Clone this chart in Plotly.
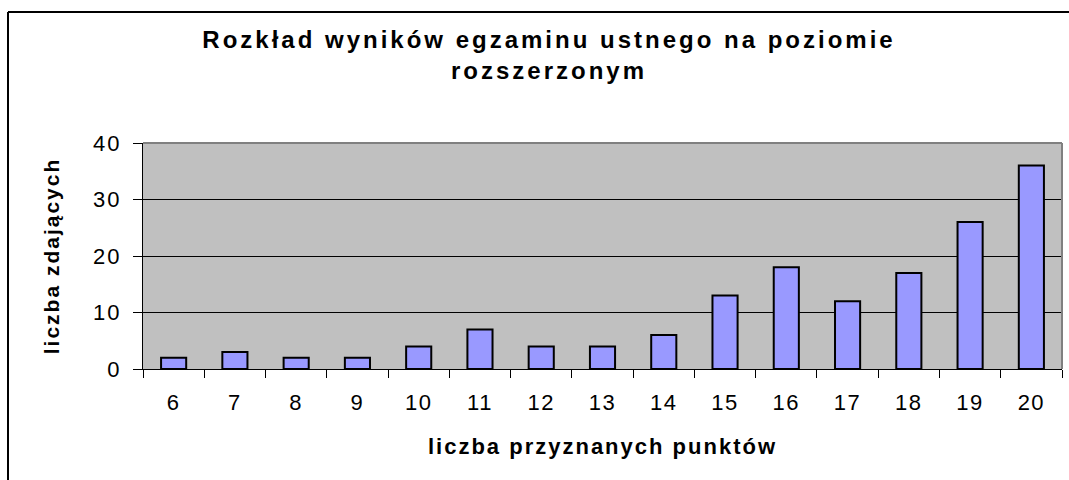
import plotly.graph_objects as go

categories = ["6", "7", "8", "9", "10", "11", "12", "13", "14", "15", "16", "17", "18", "19", "20"]
counts = [2, 3, 2, 2, 4, 7, 4, 4, 6, 13, 18, 12, 17, 26, 36]
y_ticks = [0, 10, 20, 30, 40]

title_text = "Rozkład wyników egzaminu ustnego na poziomie<br>rozszerzonym"
x_title = "liczba przyznanych punktów"
y_title = "liczba zdających"

W, H = 1069, 480
L, R, T, B = 143, 7, 143, 111
pw, ph = W - L - R, H - T - B

def px(x):
    return (x - L) / pw

def py(y):
    return 1 - (y - T) / ph

FONT = "Liberation Sans, Arial, sans-serif"

fig = go.Figure(
    go.Bar(
        x=categories,
        y=counts,
        marker=dict(color="#9999FF", line=dict(color="black", width=2)),
        width=0.41,
    )
)

fig.update_layout(
    width=W,
    height=H,
    margin=dict(l=L, r=R, t=T, b=B),
    paper_bgcolor="white",
    plot_bgcolor="#C0C0C0",
    showlegend=False,
    title=dict(
        text="<b>" + title_text + "</b>",
        x=549 / W,
        xanchor="center",
        y=1 - 48 / H,
        yanchor="top",
        font=dict(family=FONT, size=24, color="black"),
    ),
    font=dict(family=FONT, color="black"),
)

fig.update_xaxes(
    type="category",
    tickson="boundaries",
    ticks="outside",
    ticklen=8,
    tickcolor="black",
    tickwidth=1,
    ticklabelstandoff=14,
    showline=True,
    linecolor="black",
    linewidth=1,
    showgrid=False,
    tickfont=dict(family=FONT, size=22, color="black"),
    title=dict(text="<b>" + x_title + "</b>", font=dict(family=FONT, size=22, color="black"), standoff=24),
)

fig.update_yaxes(
    range=[0, 40],
    tickvals=y_ticks,
    ticks="outside",
    ticklen=9,
    tickcolor="black",
    tickwidth=1,
    ticklabelstandoff=7,
    showline=True,
    linecolor="black",
    linewidth=1,
    showgrid=True,
    gridcolor="black",
    gridwidth=1,
    zeroline=False,
    tickfont=dict(family=FONT, size=22, color="black"),
    title=dict(text="<b>" + y_title + "</b>", font=dict(family=FONT, size=21, color="black"), standoff=31),
)

# plot-area frame (top and right, grey)
fig.add_shape(type="line", xref="paper", yref="paper", x0=0, x1=1, y0=1, y1=1,
              line=dict(color="#808080", width=2))
fig.add_shape(type="line", xref="paper", yref="paper", x0=1, x1=1, y0=0, y1=1,
              line=dict(color="#808080", width=2))

# chart border (cropped: only top and left visible)
fig.add_shape(type="line", xref="paper", yref="paper", x0=px(8), x1=px(W + 20), y0=py(12), y1=py(12),
              line=dict(color="black", width=2))
fig.add_shape(type="line", xref="paper", yref="paper", x0=px(8), x1=px(8), y0=py(12), y1=py(H + 20),
              line=dict(color="black", width=2))

post_js = """
document.body.style.margin = '0';
var gd = document.getElementById('{plot_id}');
function ls(sel, v) { gd.querySelectorAll(sel).forEach(function (e) { e.style.letterSpacing = v; }); }
ls('.gtitle', '3px');
ls('.xtitle', '2px');
ls('.ytitle', '2px');
ls('.xtick text', '1.5px');
ls('.ytick text', '2px');
"""

fig.write_html("out.html", post_script=post_js, config={"displayModeBar": False})
